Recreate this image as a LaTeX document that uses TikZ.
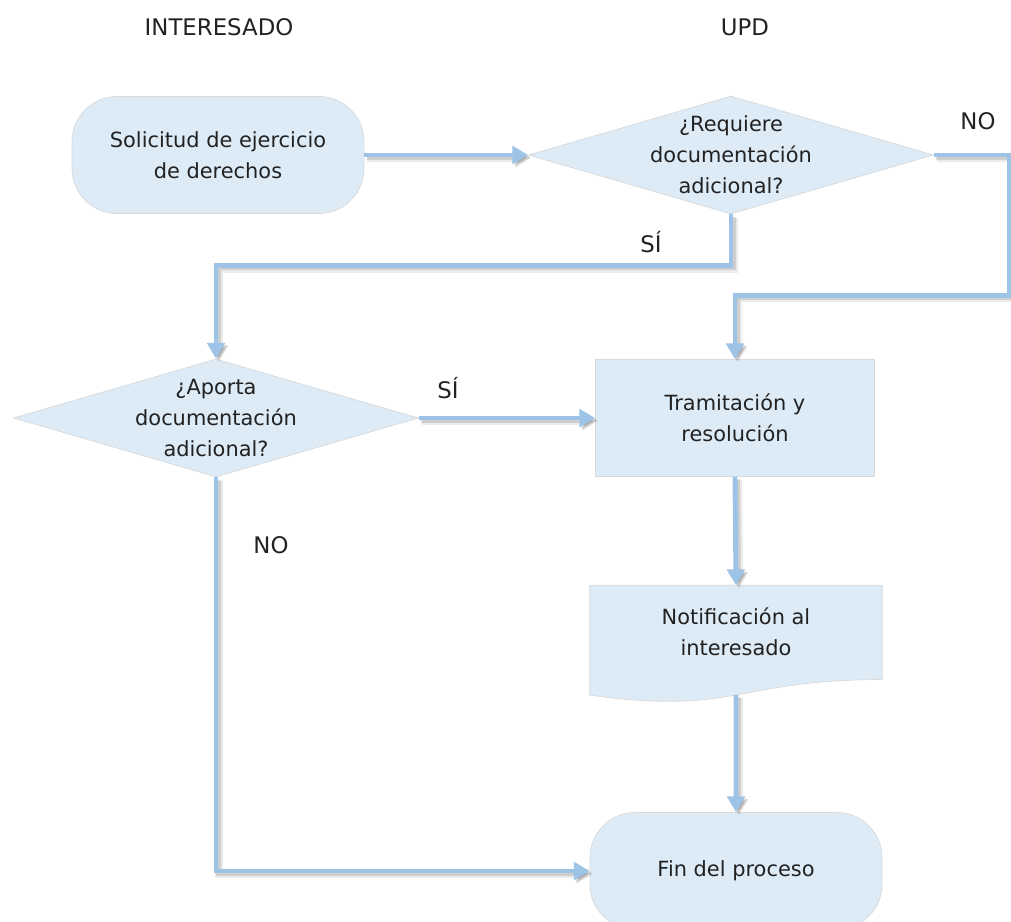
\documentclass[tikz,border=0pt]{standalone}
\usepackage{fontspec}
\setmainfont{DejaVu Sans}
\usetikzlibrary{shapes.geometric, positioning, arrows.meta, calc}

\definecolor{boxfill}{HTML}{DDEBF7}
\definecolor{flowline}{HTML}{9DC3E6}
\definecolor{txtcol}{HTML}{222222}

\begin{document}
\begin{tikzpicture}[x=0.02cm, y=-0.02cm, >={Triangle[width=10pt,length=9pt]}]

    % Define styles
    \tikzstyle{txt} = [text=txtcol, font=\fontsize{11.9}{17.6}\selectfont, align=center]
    \tikzstyle{terminal} = [rectangle, rounded corners=0.9cm, draw=black!15, fill=boxfill, txt, minimum width=5.84cm, minimum height=2.34cm]
    \tikzstyle{decision} = [diamond, draw=black!15, fill=boxfill, minimum width=8.1cm, minimum height=2.36cm, inner sep=0pt]
    \tikzstyle{process} = [rectangle, draw=black!15, fill=boxfill, txt, minimum width=5.58cm, minimum height=2.34cm]
    \tikzstyle{lane} = [text=txtcol, font=\fontsize{13}{15}\selectfont]
    \tikzstyle{flow} = [->, draw=flowline, line width=2.8pt,
        preaction={draw=black, opacity=.08, line width=4.6pt, transform canvas={shift={(1.8pt,-1.8pt)}}},
        preaction={draw=black, opacity=.12, line width=3pt, transform canvas={shift={(1.3pt,-1.3pt)}}}]

    \useasboundingbox (0,0) rectangle (1011,921);

    % Lanes
    \node[lane] (lanea) at (219, 27) {INTERESADO};
    \node[lane] (laneb) at (745, 27) {UPD};

    % Shapes
    \node[terminal] (solicitud) at (218, 155) {Solicitud de ejercicio\\de derechos};
    \node[decision, label={[txt]center:{¿Requiere\\documentación\\adicional?}}] (requiere) at (731, 155) {};
    \node[decision, label={[txt]center:{¿Aporta\\documentación\\adicional?}}] (aporta) at (216, 418) {};
    \node[process] (tramite) at (735, 418) {Tramitación y\\resolución};
    \node[minimum width=5.84cm, minimum height=2.34cm] (notif) at (736, 644) {};
    \filldraw[fill=boxfill, draw=black!15] (notif.north west) -- (notif.north east)
        -- ($(notif.north east)!0.802!(notif.south east)$)
        .. controls ($(notif.north)!0.802!(notif.south)$) and ($(notif.north)!1.1075!(notif.south)$)
        .. ($(notif.north west)!0.934!(notif.south west)$) -- cycle;
    \node[txt] (notiftext) at ([yshift=0.25cm]notif.center) {Notificación al\\interesado};
    \coordinate (notifout) at ($(notif.north)!0.933!(notif.south)$);
    \node[terminal] (fin) at (736, 871) {Fin del proceso};

    % Labels
    \node[lane] (norequiere) at (978, 121) {NO};
    \node[lane] (sirequiere) at (651, 242) {SÍ};
    \node[lane] (siaporta) at (448, 388) {SÍ};
    \node[lane] (noaporta) at (271, 545) {NO};

    % Flows
    \draw[flow] (solicitud.east) -- (requiere.west);
    \draw[flow] (requiere.east) -- ++(76,0) |- ([yshift=1.28cm]tramite.north) -- (tramite.north);
    \draw[flow] (requiere.south) -- ++(0,51) -| (aporta.north);
    \draw[flow] (aporta.east) -- (tramite.west);
    \draw[flow] (aporta.south) |- (fin.west);
    \draw[flow] (tramite.south) -- (notif.north);
    \draw[flow] (notifout) -- (fin.north);

\end{tikzpicture}
\end{document}
